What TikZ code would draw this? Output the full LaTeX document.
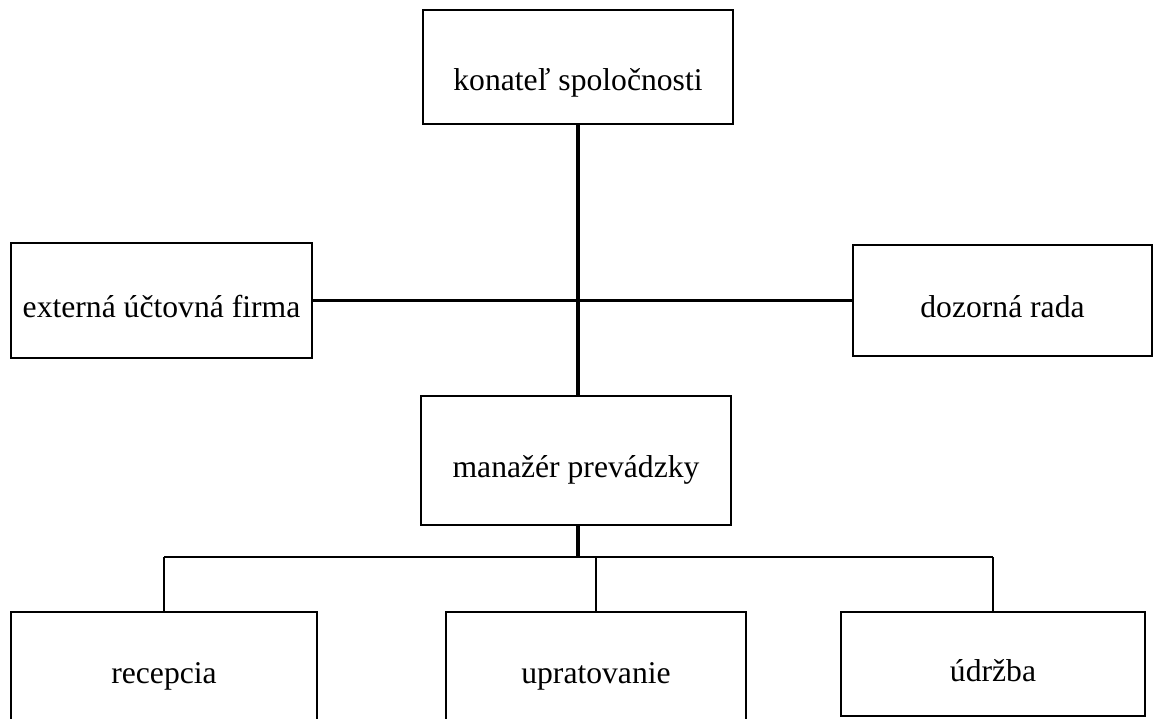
\documentclass[tikz,border=0pt]{standalone}
\usepackage{fontspec}
\setmainfont{Liberation Serif}
\usetikzlibrary{calc}

\begin{document}
\begin{tikzpicture}[
  x=0.025cm, y=-0.025cm,
  unit/.style={draw, rectangle, inner sep=0pt, line width=1.9pt,
              align=center, text height=24.6pt, text depth=0pt,
              font=\fontsize{22.5}{27}\selectfont},
  link/.style={line width=1.9pt},
  trunk/.style={line width=2.6pt},
]
\clip (0,0) rectangle (1154,718);

\node[unit, minimum width=7.75cm, minimum height=2.85cm, text height=33pt] (konatel) at (578,67) {konateľ spoločnosti};

\node[unit, minimum width=7.525cm, minimum height=2.875cm] (ucto) at (161.5,300.5) {externá účtovná firma};
\node[unit, minimum width=7.475cm, minimum height=2.775cm] (rada) at (1002.5,300.5) {dozorná rada};

\node[unit, minimum width=7.75cm, minimum height=3.225cm] (manazer) at (576,460.5) {manažér prevádzky};

\node[unit, minimum width=7.65cm, minimum height=2.7cm] (recepcia) at (164,666) {recepcia};
\node[unit, minimum width=7.5cm, minimum height=2.7cm] (upratovanie) at (596,666) {upratovanie};
\node[unit, minimum width=7.6cm, minimum height=2.6cm] (udrzba) at (993,664) {údržba};

\coordinate (bus) at (578,557);

\draw[trunk] (konatel.south -| bus) -- (manazer.north -| bus);
\draw[link] (ucto.east) -- (rada.west);
\draw[trunk] (manazer.south -| bus) -- (bus);
\draw[link] (recepcia.north |- bus) -- (udrzba.north |- bus);
\draw[link] (recepcia.north |- bus) -- (recepcia.north);
\draw[link] (upratovanie.north |- bus) -- (upratovanie.north);
\draw[link] (udrzba.north |- bus) -- (udrzba.north);

\end{tikzpicture}
\end{document}
